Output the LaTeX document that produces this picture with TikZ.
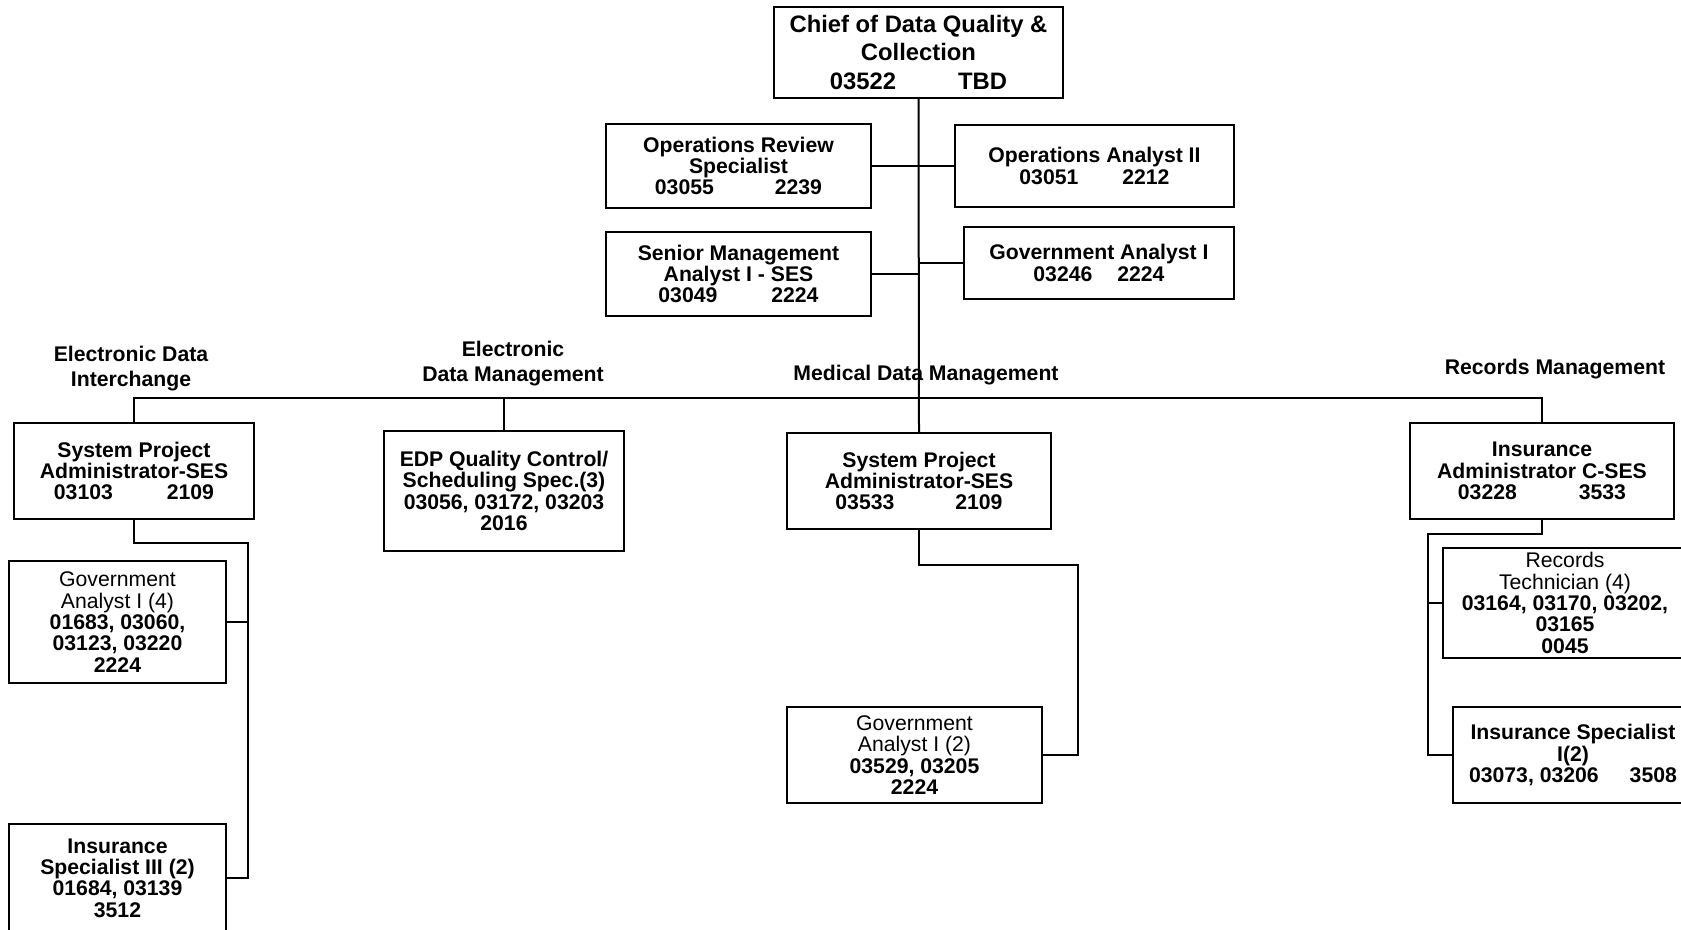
\documentclass[tikz,border=0pt]{standalone}
\usepackage{fontspec}
\setmainfont{Liberation Sans}
\begin{document}
\begin{tikzpicture}[x=1pt,y=-1pt,
  box/.style={draw,line width=2pt,inner sep=0pt,align=center,
    font=\fontsize{21.2}{21.3}\selectfont\bfseries},
  wire/.style={line width=2pt},
  heading/.style={align=center,inner sep=0pt,
    font=\fontsize{21.2}{25}\selectfont\bfseries}]
\clip (0,0) rectangle (1681,929);
\fill[white] (0,0) rectangle (1681,929);

% head of the unit
\node[box,minimum width=289pt,minimum height=91pt,
  font=\fontsize{23.8}{28.5}\selectfont\bfseries] (chief) at (918.5,52.5)
  {Chief of Data Quality \&\\Collection\\03522\hspace{62pt}TBD};

% staff positions
\node[box,minimum width=265pt,minimum height=84pt] (opsrev) at (738.5,166)
  {Operations Review\\Specialist\\03055\hspace{61pt}2239};
\node[box,minimum width=279pt,minimum height=82pt] (opsan) at (1094.5,166)
  {Operations Analyst II\\03051\hspace{44pt}2212};
\node[box,minimum width=265pt,minimum height=84pt] (senior) at (738.5,274)
  {Senior Management\\Analyst I - SES\\03049\hspace{54pt}2224};
\node[box,minimum width=270pt,minimum height=72pt] (govtop) at (1099,263)
  {Government Analyst I\\03246\hspace{25pt}2224};

% section headings
\node[heading] (h1) at (131,368.5) {Electronic Data\\Interchange};
\node[heading] (h2) at (513,364) {Electronic\\Data Management};
\node[heading] (h3) at (926,375) {Medical Data Management};
\node[heading] (h4) at (1555,369) {Records Management};

% section leads
\node[box,minimum width=240pt,minimum height=96pt] (spa1) at (134,471)
  {System Project\\Administrator-SES\\03103\hspace{54pt}2109};
\node[box,minimum width=240pt,minimum height=120pt] (edp) at (504,491)
  {EDP Quality Control/\\Scheduling Spec.(3)\\03056, 03172, 03203\\2016};
\node[box,minimum width=264pt,minimum height=96pt] (spa2) at (919,481)
  {System Project\\Administrator-SES\\03533\hspace{61pt}2109};
\node[box,minimum width=264pt,minimum height=96pt] (insadm) at (1542,471)
  {Insurance\\Administrator C-SES\\03228\hspace{62pt}3533};

% staff under the section leads
\node[box,minimum width=217pt,minimum height=122pt] (gov4) at (117.5,622)
  {\textmd{Government}\\\textmd{Analyst I (4)}\\01683, 03060,\\03123, 03220\\2224};
\node[box,minimum width=217pt,minimum height=108pt] (insspec3) at (117.5,878)
  {Insurance\\Specialist III (2)\\01684, 03139\\3512};
\node[box,minimum width=255pt,minimum height=96pt] (gov2) at (914.5,755)
  {\textmd{Government}\\\textmd{Analyst I (2)}\\03529, 03205\\2224};
\node[box,minimum width=244pt,minimum height=110pt] (rectech) at (1565,603)
  {\textmd{Records}\\\textmd{Technician (4)}\\03164, 03170, 03202,\\03165\\0045};
\node[box,minimum width=240pt,minimum height=96pt] (insspec1) at (1573,755)
  {Insurance Specialist\\I(2)\\03073, 03206\hspace{31pt}3508};

% trunk and staff branches
\draw[wire] (chief.south) -- (spa2.north);
\draw[wire] (opsrev.east) -- (opsan.west);
\draw[wire] (senior.east) -- (senior.east -| chief.south);
\draw[wire] (govtop.west) -- (govtop.west -| chief.south);

% section bus
\coordinate (busL) at (134,398);
\coordinate (busR) at (1542,398);
\draw[wire] (spa1.north) -- (busL) -- (busR) -- (insadm.north);
\draw[wire] (edp.north) -- (edp.north |- busL);

% electronic data interchange
\coordinate (lrail) at (248,543);
\draw[wire] (spa1.south) |- (lrail) |- (insspec3.east);
\draw[wire] (gov4.east) -- (gov4.east -| lrail);

% medical data management
\coordinate (mrail) at (1078,565);
\draw[wire] (spa2.south) |- (mrail) |- (gov2.east);

% records management
\coordinate (rrail) at (1428,534);
\draw[wire] (insadm.south) |- (rrail) |- (insspec1.west);
\draw[wire] (rectech.west) -- (rectech.west -| rrail);
\end{tikzpicture}
\end{document}
